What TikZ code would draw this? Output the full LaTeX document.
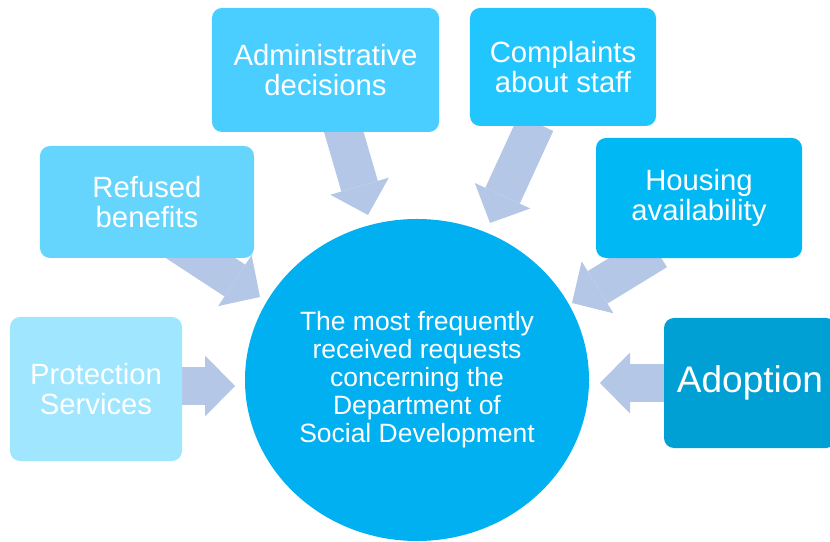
\documentclass[tikz,border=0pt]{standalone}
\usepackage{fontspec}
\setmainfont{Liberation Sans}
\usetikzlibrary{shapes.geometric,arrows.meta,backgrounds}
\definecolor{protblue}{HTML}{A0E6FF}
\definecolor{refublue}{HTML}{66D5FD}
\definecolor{admiblue}{HTML}{4ACEFF}
\definecolor{compblue}{HTML}{22C6FF}
\definecolor{housblue}{HTML}{00B9F4}
\definecolor{adopblue}{HTML}{00A0D4}
\definecolor{hubblue}{HTML}{00B0F0}
\definecolor{feedblue}{HTML}{B4C7E7}
\tikzset{
	topic/.style={rectangle, rounded corners=0.3cm, inner sep=0pt, text=white, align=center, font=\fontsize{25}{25.6}\selectfont},
	feed/.style={draw=feedblue, line width=1.14cm, -{Triangle[length=0.9cm,width=1.83cm,line width=0pt]}}
}

\begin{document}
\begin{tikzpicture}[x=0.03cm,y=-0.03cm]
				%%%%% START %%%%%
				\useasboundingbox (0,0) rectangle (830,542);

				\node[ellipse, fill=hubblue, minimum width=10.32cm, minimum height=9.66cm, inner sep=0pt, text=white, align=center, font=\fontsize{22.6}{23.9}\selectfont] (hub) at (417,380) {The most frequently\\received requests\\concerning the\\Department of\\Social Development};

				\node[topic, fill=protblue, minimum width=5.16cm, minimum height=4.32cm] (prot) at (96,389) {Protection\\Services};
				\node[topic, fill=refublue, minimum width=6.42cm, minimum height=3.36cm] (refu) at (147,202) {Refused\\benefits};
				\node[topic, fill=admiblue, minimum width=6.81cm, minimum height=3.72cm] (admi) at (325.5,70) {Administrative\\decisions};
				\node[topic, fill=compblue, minimum width=5.58cm, minimum height=3.54cm] (comp) at (563,67) {Complaints\\about staff};
				\node[topic, fill=housblue, minimum width=6.18cm, minimum height=3.6cm] (hous) at (699,198) {Housing\\availability};
				\node[topic, fill=adopblue, minimum width=5.16cm, minimum height=3.9cm, font=\fontsize{31.6}{34}\selectfont] (adop) at (750,383) {Adoption};

				% arrow ends, the tails sit under the boxes
				\coordinate (prot-out) at (165,386);
				\coordinate (prot-in) at (235,386);
				\coordinate (refu-out) at (176,242);
				\coordinate (refu-in) at (260,297);
				\coordinate (admi-out) at (340,119);
				\coordinate (admi-in) at (368,215);
				\coordinate (comp-out) at (536,123);
				\coordinate (comp-in) at (490,223);
				\coordinate (hous-out) at (657,251);
				\coordinate (hous-in) at (572,303);
				\coordinate (adop-out) at (680,383);
				\coordinate (adop-in) at (600,383);

				\begin{pgfonlayer}{background}
					\draw[feed] (prot-out) -- (prot-in);
					\draw[feed] (refu-out) -- (refu-in);
					\draw[feed] (admi-out) -- (admi-in);
					\draw[feed] (comp-out) -- (comp-in);
					\draw[feed] (hous-out) -- (hous-in);
					\draw[feed] (adop-out) -- (adop-in);
				\end{pgfonlayer}
				%%%%% START %%%%%
\end{tikzpicture}
\end{document}
